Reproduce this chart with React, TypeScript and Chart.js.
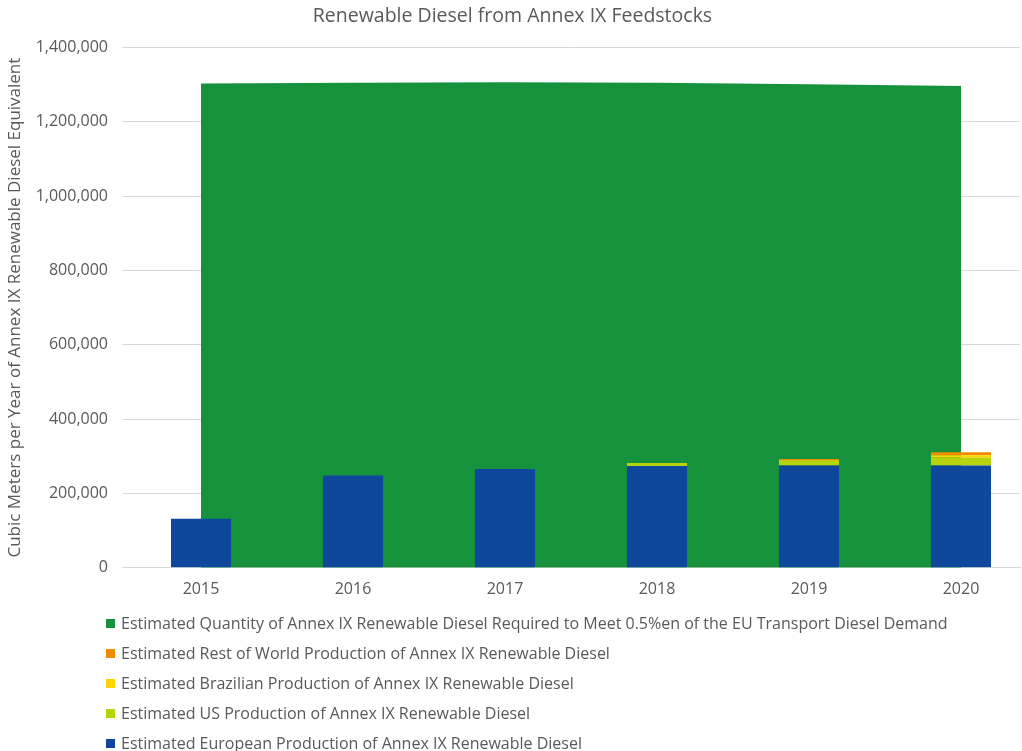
import React, { useEffect, useRef } from "react";
import { Chart, registerables } from "chart.js";
Chart.register(...registerables);

const years = [2015, 2016, 2017, 2018, 2019, 2020];
const requiredQty = [1303000, 1305000, 1306000, 1305000, 1301000, 1296000];
const european = [132000, 248000, 266000, 274000, 275000, 275000];
const usProd = [0, 0, 0, 8000, 13000, 22000];
const brazil = [0, 0, 0, 0, 2000, 6000];
const restOfWorld = [0, 0, 0, 0, 3000, 8000];
const yTicks = [0, 200000, 400000, 600000, 800000, 1000000, 1200000, 1400000];

const labels = {
  required: "Estimated Quantity of Annex IX Renewable Diesel Required to Meet 0.5%en of the EU Transport Diesel Demand",
  row: "Estimated Rest of World Production of Annex IX Renewable Diesel",
  brazil: "Estimated Brazilian Production of Annex IX Renewable Diesel",
  us: "Estimated US Production of Annex IX Renewable Diesel",
  european: "Estimated European Production of Annex IX Renewable Diesel",
};

const colors = {
  required: "#16923c",
  row: "#f08c00",
  brazil: "#ffd400",
  us: "#b7d40a",
  european: "#0e479c",
};

const legendOrder: (keyof typeof labels)[] = ["required", "row", "brazil", "us", "european"];

const FONT = "'Open Sans', Lato, sans-serif";
const TXT = "#595959";

function pts(vals: number[]) {
  return years.map((y, i) => ({ x: y, y: vals[i] }));
}

export default function App() {
  const ref = useRef<HTMLCanvasElement | null>(null);
  useEffect(() => {
    if (!ref.current) return;
    const barCommon = {
      type: "bar" as const,
      stack: "bars",
      order: 0,
      barPercentage: 0.395,
      categoryPercentage: 1,
      borderWidth: 0,
    };
    const chart = new Chart(ref.current, {
      type: "bar",
      data: {
        datasets: [
          { ...barCommon, label: labels.european, data: pts(european), backgroundColor: colors.european },
          { ...barCommon, label: labels.us, data: pts(usProd), backgroundColor: colors.us },
          { ...barCommon, label: labels.brazil, data: pts(brazil), backgroundColor: colors.brazil },
          { ...barCommon, label: labels.row, data: pts(restOfWorld), backgroundColor: colors.row },
          {
            type: "line" as const,
            label: labels.required,
            data: pts(requiredQty),
            stack: "area",
            order: 1,
            fill: "origin",
            backgroundColor: colors.required,
            borderColor: colors.required,
            borderWidth: 0,
            pointRadius: 0,
            tension: 0,
          },
        ] as any,
      },
      options: {
        animation: false,
        responsive: false,
        maintainAspectRatio: false,
        layout: { padding: { left: 5, right: 2, top: 0, bottom: 140 } },
        plugins: {
          legend: { display: false },
          tooltip: { enabled: false },
          title: {
            display: true,
            text: "Renewable Diesel from Annex IX Feedstocks",
            color: TXT,
            font: { family: FONT, size: 19.5, weight: "normal" },
            padding: { top: 5, bottom: 19 },
          },
        },
        scales: {
          x: {
            type: "linear",
            offset: false,
            min: 2015 - 78 / 152,
            max: 2020 + 59 / 152,
            stacked: true,
            grid: { display: false, drawTicks: false },
            border: { display: true, color: "#d9d9d9", width: 1 },
            afterBuildTicks: (scale: any) => {
              scale.ticks = years.map((v) => ({ value: v }));
            },
            ticks: {
              color: TXT,
              font: { family: FONT, size: 16 },
              padding: 12,
              callback: (v: any) => String(v),
            },
          },
          y: {
            type: "linear",
            min: 0,
            max: 1400000,
            stacked: true,
            afterBuildTicks: (scale: any) => {
              scale.ticks = yTicks.map((v) => ({ value: v }));
            },
            afterFit: (scale: any) => {
              scale.width = 118;
            },
            grid: { color: "#d9d9d9", drawTicks: false },
            border: { display: false },
            ticks: {
              color: TXT,
              font: { family: FONT, size: 16 },
              padding: 15,
              callback: (v: any) => Number(v).toLocaleString("en-US"),
            },
            title: {
              display: true,
              text: "Cubic Meters per Year of Annex IX Renewable Diesel Equivalent",
              color: TXT,
              font: { family: FONT, size: 17, weight: "normal" },
              padding: { top: 0, bottom: 4 },
            },
          },
        },
      } as any,
    });
    return () => chart.destroy();
  }, []);

  return (
    <div style={{ position: "relative", width: 1022, height: 751, fontFamily: FONT }}>
      <style>{`body{margin:0}`}</style>
      <canvas ref={ref} width={1022} height={751} style={{ position: "absolute", left: 0, top: 0 }} />
      <div style={{ position: "absolute", left: 106, top: 608 }}>
        {legendOrder.map((k) => (
          <div key={k} style={{ display: "flex", alignItems: "center", height: 30, color: TXT, fontSize: 16, whiteSpace: "nowrap" }}>
            <span style={{ display: "inline-block", width: 9, height: 9, background: colors[k], marginRight: 6 }} />
            <span>{labels[k]}</span>
          </div>
        ))}
      </div>
    </div>
  );
}
